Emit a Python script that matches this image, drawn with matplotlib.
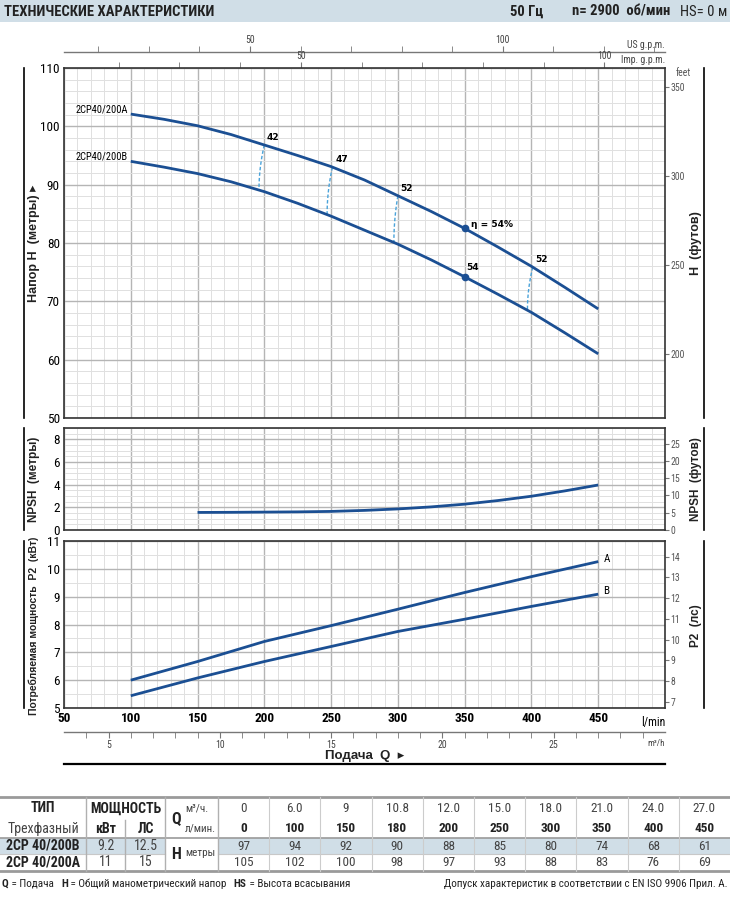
import numpy as np
import matplotlib
matplotlib.use("Agg")
import matplotlib.pyplot as plt
from matplotlib import font_manager
from matplotlib.patches import Rectangle

# ---------------- data ----------------
Q_CURVE = [100, 125, 150, 175, 200, 225, 250, 275, 300, 325, 350, 375, 400, 425, 450]
H_A = [102.1, 101.2, 100.1, 98.6, 96.8, 95.0, 93.1, 90.8, 88.1, 85.4, 82.5, 79.3, 76.0, 72.4, 68.7]
H_B = [94.0, 93.0, 91.9, 90.5, 88.8, 86.8, 84.6, 82.2, 79.8, 77.1, 74.2, 71.2, 68.1, 64.6, 61.0]

Q_NPSH = [150, 175, 200, 225, 250, 275, 300, 325, 350, 375, 400, 425, 450]
NPSH = [1.55, 1.56, 1.58, 1.60, 1.64, 1.73, 1.86, 2.04, 2.28, 2.6, 2.98, 3.45, 3.97]

Q_P2 = [100, 150, 200, 250, 300, 350, 400, 450]
P2_A = [6.0, 6.67, 7.39, 7.96, 8.55, 9.15, 9.72, 10.26]
P2_B = [5.44, 6.08, 6.67, 7.21, 7.75, 8.19, 8.65, 9.09]

EFF_Q_TOP = [200, 251, 300, 401]
EFF_Q_BOT = [196, 247, 297, 397]
EFF_VAL = ["42", "47", "52", "52"]
BEP_Q = 350
BEP_LABEL_A = "η = 54%"
BEP_LABEL_B = "54"

TBL_M3H = ["0", "6.0", "9", "10.8", "12.0", "15.0", "18.0", "21.0", "24.0", "27.0"]
TBL_LMIN = ["0", "100", "150", "180", "200", "250", "300", "350", "400", "450"]
TBL_HB = ["97", "94", "92", "90", "88", "85", "80", "74", "68", "61"]
TBL_HA = ["105", "102", "100", "98", "97", "93", "88", "83", "76", "69"]
TBL_TYPES = ["2CP 40/200B", "2CP 40/200A"]
TBL_KW = ["9.2", "11"]
TBL_HP = ["12.5", "15"]

# ---------------- fonts ----------------
fl = font_manager.fontManager.ttflist
names = {f.name for f in fl}
NARROW = None
STRETCH = "normal"
for cand in ["Liberation Sans Narrow", "Arial Narrow", "Roboto Condensed", "Open Sans Condensed"]:
    if cand in names:
        NARROW = cand
        break
if NARROW is None:
    if any(f.name == "DejaVu Sans" and f.stretch == "condensed" for f in fl):
        NARROW = "DejaVu Sans"
        STRETCH = "condensed"
    else:
        NARROW = "Liberation Sans"
FAM = [NARROW, "DejaVu Sans"]
plt.rcParams["font.family"] = FAM
plt.rcParams["font.stretch"] = STRETCH
BOLDFAM = ["Liberation Sans", "DejaVu Sans"]

W, HH = 730, 918
fig = plt.figure(figsize=(W / 100, HH / 100), dpi=100)


def rect(l, t, r, b):
    return [l / W, 1 - b / HH, (r - l) / W, (b - t) / HH]


BLUE = "#1b4f93"
LBLUE = "#4aa3da"
GMIN = "#e0e0e0"
GMAJ = "#b5b5b5"
TXT = "#222222"


def setup(ax, ylim, ymaj, ymin_step):
    ax.set_xlim(50, 500)
    ax.set_ylim(*ylim)
    ax.set_xticks(np.arange(50, 451, 50))
    ax.set_xticks(np.arange(50, 501, 10), minor=True)
    ax.set_yticks(ymaj)
    ax.set_yticks(np.arange(ylim[0], ylim[1] + 1e-9, ymin_step), minor=True)
    ax.grid(which="minor", color=GMIN, lw=0.7)
    ax.grid(which="major", color=GMAJ, lw=1.0)
    ax.set_axisbelow(True)
    ax.tick_params(which="both", length=0)
    ax.tick_params(axis="y", labelsize=9.5, pad=3)
    for s in ax.spines.values():
        s.set_color("#333333")
        s.set_linewidth(1.2)


# ---------- H plot ----------
axH = fig.add_axes(rect(64, 68, 665, 418))
setup(axH, (50, 110), np.arange(50, 111, 10), 2)
axH.tick_params(axis="x", labelbottom=False)
axH.plot(Q_CURVE, H_A, color=BLUE, lw=2.0, solid_capstyle="butt", zorder=3)
axH.plot(Q_CURVE, H_B, color=BLUE, lw=2.0, solid_capstyle="butt", zorder=3)
axH.text(Q_CURVE[0] - 2, H_A[0] + 0.8, "2CP40/200A", ha="right", va="center", fontsize=7.5)
axH.text(Q_CURVE[0] - 2, H_B[0] + 0.8, "2CP40/200B", ha="right", va="center", fontsize=7.5)

for qt, qb, lab in zip(EFF_Q_TOP, EFF_Q_BOT, EFF_VAL):
    t = np.linspace(0, 1, 40)
    ht = np.interp(qt, Q_CURVE, H_A)
    hb = np.interp(qb, Q_CURVE, H_B)
    qq = qt - (qt - qb) * (1 - (1 - t) ** 2)
    hh = ht + (hb - ht) * t
    axH.plot(qq, hh, color=LBLUE, lw=1.0, ls=(0, (2.5, 1.5)), zorder=2)
    axH.text(qt + 2, ht + 0.5, lab, fontsize=6.5, fontweight="bold", family="DejaVu Sans",
             ha="left", va="bottom")

hA_bep = np.interp(BEP_Q, Q_CURVE, H_A)
hB_bep = np.interp(BEP_Q, Q_CURVE, H_B)
axH.plot([BEP_Q, BEP_Q], [hA_bep, hB_bep], "o", color=BLUE, ms=4.5, zorder=4)
axH.text(BEP_Q + 5, hA_bep + 0.6, BEP_LABEL_A, fontsize=6.5, fontweight="bold",
         family="DejaVu Sans", ha="left", va="center")
axH.text(BEP_Q + 1, hB_bep + 1.6, BEP_LABEL_B, fontsize=6.5, fontweight="bold",
         family="DejaVu Sans", ha="left", va="center")

m2ft = lambda m: m / 0.3048
ft2m = lambda f: f * 0.3048
RT = dict(length=3, color="#777777", labelsize=7, labelcolor="#555555", pad=1)
secH = axH.secondary_yaxis("right", functions=(m2ft, ft2m))
secH.set_yticks([200, 250, 300, 350])
secH.tick_params(**RT)
secH.spines["right"].set_visible(False)
axH.text(1.018, 0.985, "feet", transform=axH.transAxes, fontsize=7, color="#555555",
         ha="left", va="center")

# top flow scales
lpm2us = lambda q: q / 3.7854
us2lpm = lambda g: g * 3.7854
lpm2imp = lambda q: q / 4.5461
imp2lpm = lambda g: g * 4.5461
TT = dict(which="both", direction="out", length=4, color="#777777",
          labelsize=7, labelcolor="#444444", pad=1)
secUS = axH.secondary_xaxis(1 + 16 / 350, functions=(lpm2us, us2lpm))
secUS.set_xticks([50, 100])
secUS.set_xticks(np.arange(20, 131, 10), minor=True)
secUS.tick_params(**TT)
secUS.spines["top"].set_color("#777777")
secUS.spines["top"].set_linewidth(1.0)
secImp = axH.secondary_xaxis("top", functions=(lpm2imp, imp2lpm))
secImp.set_xticks([50, 100])
secImp.set_xticks(np.arange(20, 111, 10), minor=True)
secImp.tick_params(**TT)
secImp.spines["top"].set_visible(False)
axH.text(1.0, 1.0 + 23 / 350, "US g.p.m.", transform=axH.transAxes, fontsize=7,
         color="#444444", ha="right", va="center")
axH.text(1.0, 1.0 + 8 / 350, "Imp. g.p.m.", transform=axH.transAxes, fontsize=7,
         color="#444444", ha="right", va="center")

# ---------- NPSH plot ----------
axN = fig.add_axes(rect(64, 428, 665, 530))
setup(axN, (0, 9), [0, 2, 4, 6, 8], 0.5)
axN.tick_params(axis="x", labelbottom=False)
axN.plot(Q_NPSH, NPSH, color=BLUE, lw=2.0, solid_capstyle="butt")
secN = axN.secondary_yaxis("right", functions=(m2ft, ft2m))
secN.set_yticks([0, 5, 10, 15, 20, 25])
secN.tick_params(**RT)
secN.spines["right"].set_visible(False)

# ---------- P2 plot ----------
axP = fig.add_axes(rect(64, 541, 665, 708))
setup(axP, (5, 11), np.arange(5, 12, 1), 0.5)
axP.tick_params(axis="x", labelsize=9.5, pad=3)
for lb in axP.get_xticklabels():
    lb.set_fontweight("bold")
axP.plot(Q_P2, P2_A, color=BLUE, lw=2.0, solid_capstyle="butt")
axP.plot(Q_P2, P2_B, color=BLUE, lw=2.0, solid_capstyle="butt")
axP.text(Q_P2[-1] + 4, P2_A[-1] + 0.1, "A", fontsize=8, ha="left", va="center")
axP.text(Q_P2[-1] + 4, P2_B[-1] + 0.1, "B", fontsize=8, ha="left", va="center")
axP.text(1.0, -0.05, "l/min", transform=axP.transAxes, fontsize=8.5, ha="right", va="top")

kw2hp = lambda k: k * 1.341
hp2kw = lambda h: h / 1.341
secP = axP.secondary_yaxis("right", functions=(kw2hp, hp2kw))
secP.set_yticks(np.arange(7, 15, 1))
secP.tick_params(**RT)
secP.spines["right"].set_visible(False)

lpm2m3h = lambda q: q * 0.06
m3h2lpm = lambda m: m / 0.06
secQ = axP.secondary_xaxis(-24 / 167, functions=(lpm2m3h, m3h2lpm))
secQ.set_xticks([5, 10, 15, 20, 25])
secQ.set_xticks(np.arange(4, 30, 1), minor=True)
secQ.tick_params(which="both", direction="out", length=4, color="#777777",
                 labelsize=7, labelcolor="#444444", pad=2)
secQ.spines["bottom"].set_color("#777777")
secQ.spines["bottom"].set_linewidth(1.0)
axP.text(1.0, -0.21, "m³/h", transform=axP.transAxes, fontsize=6.5,
         color="#444444", ha="right", va="center")

# ---------- overlay (page furniture) ----------
ov = fig.add_axes([0, 0, 1, 1], zorder=-5)
ov.set_xlim(0, W)
ov.set_ylim(HH, 0)
ov.axis("off")

ov.add_patch(Rectangle((0, 0), W, 22, color="#d0dee7", lw=0))
ov.text(4, 11.5, "ТЕХНИЧЕСКИЕ ХАРАКТЕРИСТИКИ", fontsize=10.5, fontweight="bold",
        ha="left", va="center", color=TXT)
ov.text(727, 11.5, "HS= 0 м", fontsize=10.5, ha="right", va="center", color=TXT)
ov.text(670, 11.5, "n= 2900  об/мин", fontsize=10.5, fontweight="bold",
        ha="right", va="center", color=TXT)
ov.text(543, 11.5, "50 Гц", fontsize=10.5, fontweight="bold",
        ha="right", va="center", color=TXT)

# side labels and lines
for (t, b) in [(68, 418), (428, 530), (541, 708)]:
    ov.plot([24, 24], [t, b], color="black", lw=1.2)
    ov.plot([704, 704], [t, b], color="black", lw=1.2)
ov.text(34, 243, "Напор H  (метры) ▸", rotation=90, fontsize=9, fontweight="bold",
        family=BOLDFAM, ha="center", va="center", color=TXT)
ov.text(696, 243, "H  (футов)", rotation=90, fontsize=9, fontweight="bold",
        family=BOLDFAM, ha="center", va="center", color=TXT)
ov.text(34, 479, "NPSH  (метры)", rotation=90, fontsize=8.5, fontweight="bold",
        family=BOLDFAM, ha="center", va="center", color=TXT)
ov.text(696, 479, "NPSH  (футов)", rotation=90, fontsize=8.5, fontweight="bold",
        family=BOLDFAM, ha="center", va="center", color=TXT)
ov.text(34, 626, "Потребляемая мощность  P2  (кВт)", rotation=90, fontsize=7.5,
        fontweight="bold", family=BOLDFAM, ha="center", va="center", color=TXT)
ov.text(696, 626, "P2  (лс)", rotation=90, fontsize=8.5, fontweight="bold",
        family=BOLDFAM, ha="center", va="center", color=TXT)

ov.text(365, 756, "Подача  Q  ▸", fontsize=9.5, fontweight="bold",
        family=BOLDFAM, ha="center", va="center", color=TXT)
ov.plot([64, 665], [764, 764], color="black", lw=1.6)

# ---------- table ----------
y_top, y_r1, y_r2, y_r3, y_bot = 797, 818, 838, 854, 871
col_left = 218
col_w = 51.2
centers = [col_left + col_w * (i + 0.5) for i in range(10)]
ov.add_patch(Rectangle((0, y_r2), 165, y_r3 - y_r2, color="#d0dee7", lw=0))
ov.add_patch(Rectangle((col_left, y_r2), W - col_left, y_r3 - y_r2, color="#d0dee7", lw=0))
ov.plot([0, W], [y_top, y_top], color="#9a9a9a", lw=2.0)
ov.plot([0, W], [y_bot, y_bot], color="#9a9a9a", lw=2.0)
ov.plot([0, W], [y_r2, y_r2], color="#9a9a9a", lw=1.2)
ov.plot([0, 165], [y_r3, y_r3], color="#c8c8c8", lw=0.8)
ov.plot([col_left, W], [y_r3, y_r3], color="#c8c8c8", lw=0.8)
for x in [86, 165, col_left]:
    ov.plot([x, x], [y_top, y_bot], color="#b0b0b0", lw=1.0)
ov.plot([125, 125], [y_r1 + 2, y_bot], color="#b0b0b0", lw=1.0)
for i in range(1, 10):
    x = col_left + col_w * i
    ov.plot([x, x], [y_top, y_bot], color="#cccccc", lw=0.8)

fs = 10
c1 = (y_top + y_r1) / 2 + 1
c2 = (y_r1 + y_r2) / 2 + 1
c3 = (y_r2 + y_r3) / 2
c4 = (y_r3 + y_bot) / 2
TF = dict(ha="center", va="center")
ov.text(43, c1, "ТИП", fontsize=fs, fontweight="bold", color=TXT, **TF)
ov.text(43, c2, "Трехфазный", fontsize=fs, color="#444444", **TF)
ov.text(126, c1, "МОЩНОСТЬ", fontsize=fs, fontweight="bold", color=TXT, **TF)
ov.text(106, c2, "кВт", fontsize=fs, fontweight="bold", color=TXT, **TF)
ov.text(146, c2, "ЛС", fontsize=fs, fontweight="bold", color=TXT, **TF)
ov.text(176, (c1 + c2) / 2, "Q", fontsize=fs + 1.5, fontweight="bold", color=TXT, **TF)
ov.text(185, c1, "м³/ч.", fontsize=8, ha="left", va="center", color="#444444")
ov.text(185, c2, "л/мин.", fontsize=8, ha="left", va="center", color="#444444")
ov.text(176, (c3 + c4) / 2, "H", fontsize=fs + 1.5, fontweight="bold", color=TXT, **TF)
ov.text(185, (c3 + c4) / 2 - 1, "метры", fontsize=8, ha="left", va="center",
        color="#444444")
for i, (typ, kw, hp) in enumerate(zip(TBL_TYPES, TBL_KW, TBL_HP)):
    yy = c3 if i == 0 else c4
    ov.text(43, yy, typ, fontsize=fs, fontweight="bold", color=TXT, **TF)
    ov.text(106, yy, kw, fontsize=fs, color="#444444", **TF)
    ov.text(146, yy, hp, fontsize=fs, color="#444444", **TF)
for x, a, b, hb, ha_ in zip(centers, TBL_M3H, TBL_LMIN, TBL_HB, TBL_HA):
    ov.text(x, c1, a, fontsize=fs - 0.5, color="#444444", **TF)
    ov.text(x, c2, b, fontsize=fs - 0.5, fontweight="bold", color=TXT, **TF)
    ov.text(x, c3, hb, fontsize=fs - 0.5, color="#444444", **TF)
    ov.text(x, c4, ha_, fontsize=fs - 0.5, color="#444444", **TF)

# footer
parts = [("Q", True), (" = Подача   ", False), ("H", True),
         (" = Общий манометрический напор   ", False), ("HS", True),
         (" = Высота всасывания", False)]
prev = ov.text(2, 884, parts[0][0], fontsize=8, fontweight="bold", ha="left", va="center",
               color=TXT)
for s, bold in parts[1:]:
    prev = ov.annotate(s, xy=(1, 0.5), xycoords=prev, va="center", ha="left",
                       fontsize=8, fontweight="bold" if bold else "normal", color=TXT)
ov.text(728, 884, "Допуск характеристик в соответствии с EN ISO 9906 Прил. А.",
        fontsize=8, ha="right", va="center", color=TXT)

fig.savefig("out.png", dpi=100)
